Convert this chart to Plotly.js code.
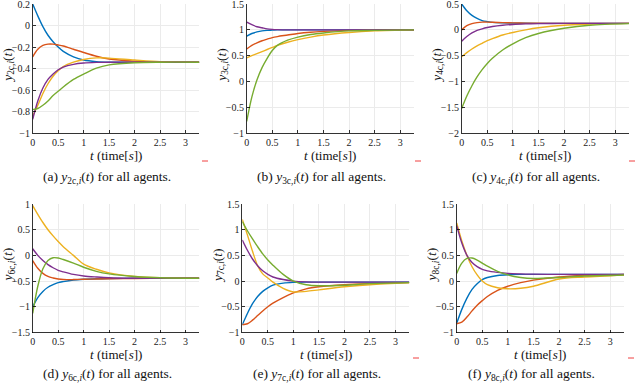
<!DOCTYPE html>
<html>
<head>
<meta charset="utf-8">
<script src="https://cdn.plot.ly/plotly-3.0.1.min.js"></script>
<style>
  html, body { margin: 0; padding: 0; background: #fff; }
  #chart { width: 640px; height: 383px; }
</style>
</head>
<body>
<div id="chart"></div>
<script>
// Zeitpunkte (s)
const time = [0, 0.1, 0.2, 0.3, 0.4, 0.5, 0.6, 0.8, 1.0, 1.25, 1.5, 2.0, 2.5, 3.27];

// Agentenfarben (MATLAB-Standard)
const agentColors = ['#0072BD', '#D95319', '#EDB120', '#7E2F8E', '#77AC30'];

// Werte pro Ausgang, je Agent 1..5
const y2c = [
    [0.2, 0.09, -0.01, -0.09, -0.15, -0.2, -0.24, -0.29, -0.32, -0.335, -0.34, -0.34, -0.34, -0.34],
    [-0.29, -0.22, -0.185, -0.172, -0.172, -0.18, -0.19, -0.22, -0.25, -0.285, -0.31, -0.33, -0.338, -0.34],
    [-0.84, -0.74, -0.63, -0.54, -0.47, -0.42, -0.38, -0.34, -0.315, -0.3, -0.302, -0.32, -0.335, -0.34],
    [-0.87, -0.7, -0.58, -0.5, -0.45, -0.41, -0.385, -0.36, -0.348, -0.342, -0.34, -0.34, -0.34, -0.34],
    [-0.78, -0.77, -0.74, -0.7, -0.65, -0.61, -0.57, -0.5, -0.45, -0.395, -0.365, -0.345, -0.34, -0.34]
];
const y3c = [
    [0.88, 0.93, 0.96, 0.98, 0.99, 0.995, 1.0, 1.0, 1.0, 1.0, 1.0, 1.0, 1.0, 1.0],
    [0.63, 0.7, 0.75, 0.79, 0.82, 0.85, 0.87, 0.9, 0.93, 0.955, 0.97, 0.99, 0.995, 1.0],
    [0.46, 0.5, 0.54, 0.58, 0.62, 0.66, 0.7, 0.76, 0.81, 0.86, 0.9, 0.95, 0.98, 1.0],
    [1.15, 1.1, 1.06, 1.04, 1.02, 1.01, 1.005, 1.0, 1.0, 1.0, 1.0, 1.0, 1.0, 1.0],
    [-0.77, -0.3, 0.03, 0.27, 0.45, 0.6, 0.7, 0.8, 0.86, 0.91, 0.94, 0.98, 0.99, 1.0]
];
const y4c = [
    [0.5, 0.37, 0.28, 0.22, 0.18, 0.16, 0.145, 0.135, 0.13, 0.127, 0.125, 0.125, 0.125, 0.125],
    [0.0, 0.08, 0.12, 0.14, 0.15, 0.15, 0.148, 0.14, 0.135, 0.13, 0.127, 0.125, 0.125, 0.125],
    [-0.52, -0.44, -0.37, -0.31, -0.26, -0.21, -0.17, -0.1, -0.05, 0.0, 0.04, 0.09, 0.11, 0.125],
    [-0.22, -0.13, -0.06, -0.01, 0.02, 0.045, 0.065, 0.09, 0.105, 0.115, 0.12, 0.125, 0.125, 0.125],
    [-1.52, -1.28, -1.08, -0.91, -0.77, -0.65, -0.55, -0.39, -0.27, -0.15, -0.07, 0.03, 0.09, 0.12]
];
const y6c = [
    [-1.0, -0.82, -0.7, -0.62, -0.57, -0.53, -0.51, -0.48, -0.465, -0.455, -0.45, -0.445, -0.445, -0.445],
    [-0.1, -0.25, -0.35, -0.41, -0.44, -0.46, -0.47, -0.47, -0.465, -0.46, -0.455, -0.45, -0.445, -0.445],
    [0.97, 0.8, 0.64, 0.5, 0.38, 0.27, 0.17, 0.0, -0.17, -0.27, -0.34, -0.41, -0.435, -0.445],
    [0.13, 0.0, -0.1, -0.18, -0.24, -0.29, -0.32, -0.37, -0.4, -0.42, -0.435, -0.445, -0.445, -0.445],
    [-1.13, -0.6, -0.26, -0.1, -0.045, -0.05, -0.08, -0.15, -0.23, -0.31, -0.36, -0.41, -0.435, -0.445]
];
const y7c = [
    [-0.85, -0.63, -0.44, -0.3, -0.2, -0.13, -0.08, -0.04, -0.025, -0.02, -0.02, -0.02, -0.02, -0.02],
    [-0.85, -0.83, -0.76, -0.67, -0.58, -0.5, -0.43, -0.32, -0.23, -0.15, -0.11, -0.07, -0.05, -0.03],
    [1.2, 0.9, 0.58, 0.3, 0.14, 0.06, -0.02, -0.14, -0.21, -0.2, -0.17, -0.11, -0.07, -0.03],
    [0.8, 0.6, 0.43, 0.3, 0.2, 0.13, 0.08, 0.03, 0.0, -0.015, -0.02, -0.02, -0.02, -0.02],
    [1.16, 0.98, 0.82, 0.67, 0.53, 0.41, 0.31, 0.13, 0.0, -0.07, -0.09, -0.08, -0.05, -0.03]
];
const y8c = [
    [-0.82, -0.55, -0.33, -0.16, -0.05, 0.03, 0.07, 0.11, 0.125, 0.13, 0.13, 0.13, 0.13, 0.13],
    [-0.83, -0.8, -0.7, -0.58, -0.47, -0.38, -0.3, -0.18, -0.1, -0.03, 0.02, 0.08, 0.11, 0.13],
    [1.13, 0.78, 0.5, 0.28, 0.12, 0.0, -0.07, -0.13, -0.15, -0.14, -0.1, 0.04, 0.08, 0.12],
    [1.08, 0.74, 0.5, 0.36, 0.28, 0.23, 0.2, 0.17, 0.15, 0.14, 0.135, 0.13, 0.13, 0.13],
    [0.15, 0.35, 0.44, 0.45, 0.41, 0.35, 0.29, 0.19, 0.12, 0.07, 0.05, 0.07, 0.1, 0.12]
];

// Beschriftungen
const outputNames = ['2', '3', '4', '6', '7', '8'];
const panelLetters = ['a', 'b', 'c', 'd', 'e', 'f'];
const yRanges = [[-1, 0.2], [-1, 1.5], [-2, 0.5], [-1.5, 1], [-1, 1.5], [-1, 1.5]];
const yTicks = [0.2, 0.5, 0.5, 0.5, 0.5, 0.5];

// Achsenpositionen in Pixel (links, rechts, oben, unten)
const boxes = [
    [32.7, 199.3, 4, 133.3],
    [246.7, 414, 4, 133.3],
    [461.7, 629, 4, 133.3],
    [32.7, 199.3, 204, 332.5],
    [242.3, 409.3, 204, 332.5],
    [456.7, 624, 204, 332.5]
];

const W = 640, H = 383;
const px = x => x / W;
const py = y => 1 - y / H;
const serif = 'Liberation Serif, DejaVu Serif, serif';

function yLabel(n) {
    return '<i>y</i><sub>' + n + 'c,<i>i</i></sub>(<i>t</i>)';
}

function baseAxis() {
    return {
        showline: true,
        linecolor: '#000',
        linewidth: 0.8,
        mirror: false,
        ticks: 'inside',
        ticklen: 3,
        tickcolor: '#000',
        tickwidth: 0.8,
        showgrid: true,
        gridcolor: '#ebebeb',
        gridwidth: 1,
        zeroline: false,
        fixedrange: true,
        ticklabeloverflow: 'allow',
        tickfont: { family: serif, size: 10, color: '#222' }
    };
}

// Text-Annotation in Pixelkoordinaten, immer zentriert
function label(x, y, text, size, angle) {
    return {
        xref: 'paper', yref: 'paper',
        x: px(x), y: py(y),
        xanchor: 'center', yanchor: 'middle',
        text: text,
        textangle: angle || 0,
        showarrow: false,
        font: { family: serif, size: size, color: '#111' }
    };
}

const traces = [];
const layout = {
    width: W,
    height: H,
    margin: { t: 0, l: 0, r: 0, b: 0 },
    paper_bgcolor: '#fff',
    plot_bgcolor: '#fff',
    showlegend: false,
    annotations: [],
    shapes: []
};

const allData = [y2c, y3c, y4c, y6c, y7c, y8c];

allData.forEach((series, p) => {
    const idx = p === 0 ? '' : String(p + 1);
    const [l, r, t, b] = boxes[p];

    series.forEach((vals, a) => {
        traces.push({
            x: time,
            y: vals,
            xaxis: 'x' + idx,
            yaxis: 'y' + idx,
            type: 'scatter',
            mode: 'lines',
            line: { color: agentColors[a], width: 1.4, shape: 'spline', smoothing: 0.9 },
            hoverinfo: 'skip'
        });
    });

    const xa = baseAxis();
    xa.domain = [px(l), px(r)];
    xa.range = [0, 3.27];
    xa.dtick = 0.5;
    xa.tick0 = 0;
    xa.anchor = 'y' + idx;
    layout['xaxis' + idx] = xa;

    // Bereich minimal erweitert, damit der oberste Tick erhalten bleibt
    const ya = baseAxis();
    ya.domain = [py(b), py(t)];
    ya.range = [yRanges[p][0], yRanges[p][1] + 1e-6];
    ya.dtick = yTicks[p];
    ya.tick0 = 0;
    ya.anchor = 'x' + idx;
    layout['yaxis' + idx] = ya;

    // Unterschrift der unteren Reihe etwas höher, sonst abgeschnitten
    const capY = p < 3 ? b + 44 : b + 42;
    layout.annotations.push(label(l - 24.5, (t + b) / 2 - 3, yLabel(outputNames[p]), 13.5, -90));
    layout.annotations.push(label((l + r) / 2, b + 22, '<i>t</i> (time[<i>s</i>])', 13));
    layout.annotations.push(label((l + r) / 2 - 9, capY,
        '(' + panelLetters[p] + ') ' + yLabel(outputNames[p]) + ' for all agents.', 13.5));
});

// kleine rote Striche (aus der Vorlage)
const redMarks = [[205, 161], [418, 161], [632, 161], [416, 358], [631, 358]];
redMarks.forEach(([x, y]) => {
    layout.shapes.push({
        type: 'line', xref: 'paper', yref: 'paper',
        x0: px(x - 3), x1: px(x + 3), y0: py(y), y1: py(y),
        line: { color: '#f04040', width: 1 }
    });
});

Plotly.newPlot('chart', traces, layout, { staticPlot: true, displayModeBar: false });
</script>
</body>
</html>
